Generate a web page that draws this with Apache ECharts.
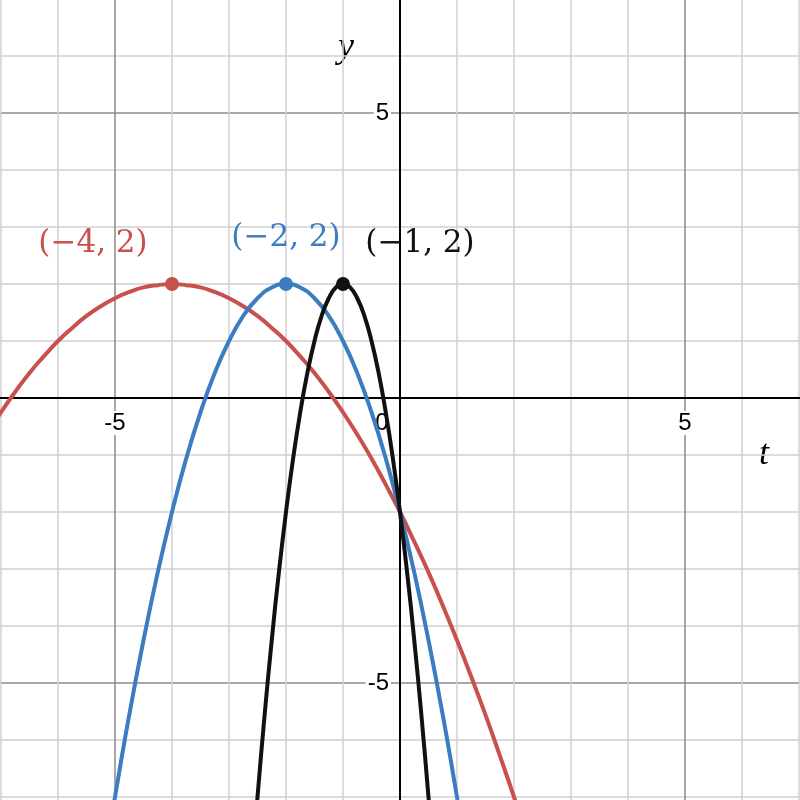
<!DOCTYPE html>
<html>
<head>
<meta charset="utf-8">
<script src="https://cdn.jsdelivr.net/npm/echarts@6/dist/echarts.min.js"></script>
<style>
    html, body { margin: 0; padding: 0; background: #fff; }
    #chart { width: 800px; height: 800px; }
</style>
</head>
<body>
<div id="chart"></div>
<script>
// 曲线数据 (t, y)
const redT = [-7.25, -7, -6.75, -6.5, -6.25, -6, -5.75, -5.5, -5.25, -5, -4.75, -4.5, -4.25, -4, -3.75, -3.5, -3.25, -3, -2.75, -2.5, -2.25, -2, -1.75, -1.5, -1.25, -1, -0.75, -0.5, -0.25, 0, 0.25, 0.5, 0.75, 1, 1.25, 1.5, 1.75, 2, 2.25]
const redY = [-0.64, -0.25, 0.11, 0.44, 0.73, 1, 1.23, 1.44, 1.61, 1.75, 1.86, 1.94, 1.98, 2, 1.98, 1.94, 1.86, 1.75, 1.61, 1.44, 1.23, 1, 0.73, 0.44, 0.11, -0.25, -0.64, -1.06, -1.52, -2, -2.52, -3.06, -3.64, -4.25, -4.89, -5.56, -6.27, -7, -7.77]

const blueT = [-5.1, -5, -4.75, -4.5, -4.25, -4, -3.75, -3.5, -3.25, -3, -2.75, -2.5, -2.25, -2, -1.75, -1.5, -1.25, -1, -0.75, -0.5, -0.25, 0, 0.25, 0.5, 0.75, 1, 1.1]
const blueY = [-7.61, -7, -5.56, -4.25, -3.06, -2, -1.06, -0.25, 0.44, 1, 1.44, 1.75, 1.94, 2, 1.94, 1.75, 1.44, 1, 0.44, -0.25, -1.06, -2, -3.06, -4.25, -5.56, -7, -7.61]

const blackT = [-2.55, -2.5, -2.375, -2.25, -2.125, -2, -1.875, -1.75, -1.625, -1.5, -1.375, -1.25, -1.125, -1, -0.875, -0.75, -0.625, -0.5, -0.375, -0.25, -0.125, 0, 0.125, 0.25, 0.375, 0.5, 0.55]
const blackY = [-7.61, -7, -5.56, -4.25, -3.06, -2, -1.06, -0.25, 0.44, 1, 1.44, 1.75, 1.94, 2, 1.94, 1.75, 1.44, 1, 0.44, -0.25, -1.06, -2, -3.06, -4.25, -5.56, -7, -7.61]

// 顶点
const vertexT = [-4, -2, -1]
const vertexY = [2, 2, 2]
const vertexLabels = ['(\u22124, 2)', '(\u22122, 2)', '(\u22121, 2)']

// 刻度标签
const xTickLabels = [-5, 0, 5]
const yTickLabels = [-5, 5]

const RED = '#c8504d'
const BLUE = '#3b7dc0'
const BLACK = '#111111'

const zip = (a, b) => a.map((v, i) => [v, b[i]])

// 网格颜色：每 5 格一条深色
const gridColors = ['#d0d0d0', '#d0d0d0', '#d0d0d0', '#8a8a8a', '#d0d0d0']

const chart = echarts.init(document.getElementById('chart'))

const vertexSeries = (i, color, offset) => ({
    type: 'scatter',
    data: [[vertexT[i], vertexY[i]]],
    symbolSize: 14,
    itemStyle: { color, opacity: 1 },
    z: 5,
    label: {
        show: true,
        position: 'inside',
        offset,
        formatter: vertexLabels[i],
        color,
        opacity: 1,
        fontFamily: 'DejaVu Serif',
        fontSize: 31
    }
})

const tickRich = { fontFamily: 'Liberation Sans', fontSize: 24, color: '#000' }

const option = {
    animation: false,
    backgroundColor: '#fff',
    grid: { left: -56, right: -56, top: -58, bottom: -54, containLabel: false, outerBoundsMode: 'none' },
    xAxis: {
        type: 'value',
        position: 'bottom',
        offset: -456,
        min: -8,
        max: 8,
        interval: 1,
        axisLine: { onZero: false, lineStyle: { color: '#000', width: 2 } },
        axisTick: { show: false },
        splitLine: { show: true, lineStyle: { color: gridColors, width: 1.5 } },
        axisLabel: {
            margin: 13,
            formatter: v => {
                if (!xTickLabels.includes(v)) return ''
                if (v === 0) return '{z|0}'
                return '{n|' + (v < 0 ? '-' + (-v) : v) + '}'
            },
            rich: {
                n: { ...tickRich, backgroundColor: '#fff', padding: [0, 2] },
                z: { ...tickRich, padding: [0, 36, 0, 0] }
            }
        }
    },
    yAxis: {
        type: 'value',
        position: 'left',
        offset: -456,
        min: -8,
        max: 8,
        interval: 1,
        axisLine: { onZero: false, lineStyle: { color: '#000', width: 2 } },
        axisTick: { show: false },
        splitLine: { show: true, lineStyle: { color: gridColors, width: 1.5 } },
        axisLabel: {
            margin: 9,
            formatter: v => yTickLabels.includes(v) ? '{n|' + (v < 0 ? '-' + (-v) : v) + '}' : '',
            rich: {
                n: { ...tickRich, backgroundColor: '#fff', padding: [0, 2] }
            }
        }
    },
    graphic: [
        { type: 'text', left: 759, top: 437, style: { text: 't', font: 'italic 36px "Liberation Serif"', fill: '#000' } },
        { type: 'text', left: 338, top: 30, style: { text: 'y', font: 'italic 36px "Liberation Serif"', fill: '#000' } }
    ],
    series: [
        { type: 'line', data: zip(redT, redY), showSymbol: false, smooth: true, lineStyle: { color: RED, width: 4 }, z: 3 },
        { type: 'line', data: zip(blueT, blueY), showSymbol: false, smooth: true, lineStyle: { color: BLUE, width: 4 }, z: 3 },
        { type: 'line', data: zip(blackT, blackY), showSymbol: false, smooth: true, lineStyle: { color: BLACK, width: 4 }, z: 3 },
        vertexSeries(0, RED, [-79, -40]),
        vertexSeries(1, BLUE, [0, -46]),
        vertexSeries(2, BLACK, [77, -40])
    ]
}

chart.setOption(option)
</script>
</body>
</html>
